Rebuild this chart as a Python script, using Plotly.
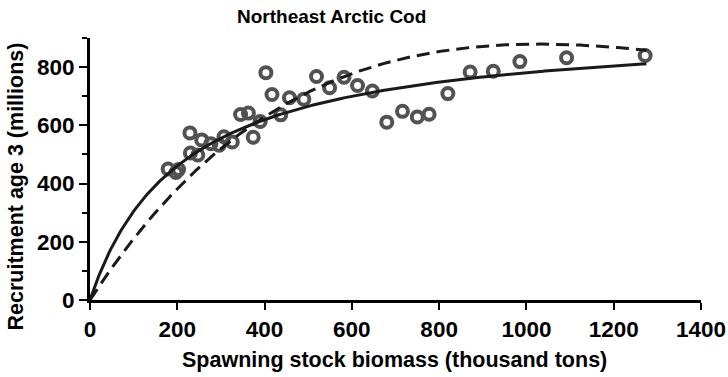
import numpy as np
import plotly.graph_objects as go

# Observed stock-recruitment pairs
ssb = [179, 197, 203, 229, 230, 247, 256, 277, 296, 307, 326, 345, 363, 374,
       390, 403, 417, 437, 457, 490, 519, 549, 582, 613, 647, 680, 716, 750,
       777, 820, 871, 924, 985, 1092, 1272]
recruits = [450, 438, 448, 574, 505, 498, 550, 537, 532, 561, 543, 637, 642, 559,
            613, 781, 706, 636, 695, 690, 768, 729, 765, 737, 718, 611, 648, 629,
            638, 709, 783, 786, 819, 832, 840]

# Fitted stock-recruitment models
bh_a, bh_b = 945.0, 210.0          # Beverton-Holt: R = a S / (b + S)
ricker_a, ricker_b = 2.32, 1 / 1030  # Ricker: R = a S exp(-b S)
s_max = 1275

x_ticks = [0, 200, 400, 600, 800, 1000, 1200, 1400]
y_ticks = [0, 200, 400, 600, 800]
y_minor = [100, 300, 500, 700, 900]

title_text = "Northeast Arctic Cod"
x_title = "Spawning stock biomass (thousand tons)"
y_title = "Recruitment age 3 (millions)"

s_grid = np.linspace(0, s_max, 400)
bh_curve = bh_a * s_grid / (bh_b + s_grid)
ricker_curve = ricker_a * s_grid * np.exp(-ricker_b * s_grid)

FONT = "Liberation Sans, Arial, sans-serif"
W, H = 728, 377
M_L, M_R, M_T, M_B = 90, 27, 38, 77
PW, PH = W - M_L - M_R, H - M_T - M_B


def px_x(p):
    return (p - M_L) / PW


def px_y(p):
    return (H - M_B - p) / PH


TICK_FONT = dict(size=22.5, family=FONT, weight="bold", color="black")
LABEL_FONT = dict(size=21.5, family=FONT, weight="bold", color="black")

fig = go.Figure()
fig.add_trace(go.Scatter(
    x=ssb, y=recruits, mode="markers",
    marker=dict(symbol="circle-open", size=11, color="#525252",
                line=dict(width=4, color="#525252")),
    showlegend=False, cliponaxis=False,
))
fig.add_trace(go.Scatter(
    x=s_grid, y=bh_curve, mode="lines",
    line=dict(color="#1a1a1a", width=3),
    showlegend=False, cliponaxis=False,
))
fig.add_trace(go.Scatter(
    x=s_grid, y=ricker_curve, mode="lines",
    line=dict(color="#1a1a1a", width=3, dash="13px,7px"),
    showlegend=False, cliponaxis=False,
))

fig.update_layout(
    width=W, height=H,
    margin=dict(l=M_L, r=M_R, t=M_T, b=M_B, autoexpand=False),
    paper_bgcolor="white", plot_bgcolor="white",
    font=dict(family=FONT, color="black"),
    xaxis=dict(
        range=[0, 1400], tickvals=x_ticks, ticktext=[str(v) for v in x_ticks],
        showgrid=False, zeroline=False, showline=True, linecolor="black", linewidth=3,
        ticks="outside", ticklen=7, tickwidth=2, tickcolor="black",
        tickfont=TICK_FONT, automargin=False,
    ),
    yaxis=dict(
        range=[0, 900], tickvals=y_ticks, ticktext=[str(v) for v in y_ticks],
        showgrid=False, zeroline=False, showline=True, linecolor="black", linewidth=3,
        ticks="outside", ticklen=8, tickwidth=2, tickcolor="black",
        tickfont=TICK_FONT, automargin=False,
        minor=dict(tickvals=y_minor, ticks="outside", ticklen=5,
                   tickwidth=2, tickcolor="black", showgrid=False),
    ),
    annotations=[
        dict(text=title_text, xref="paper", yref="paper",
             x=px_x(331.5), y=px_y(17), xanchor="center", yanchor="middle",
             showarrow=False, font=dict(size=19, family=FONT, weight="bold", color="black")),
        dict(text=x_title, xref="paper", yref="paper",
             x=px_x(394.5), y=px_y(360), xanchor="center", yanchor="middle",
             showarrow=False, font=LABEL_FONT),
        dict(text=y_title, xref="paper", yref="paper", textangle=-90,
             x=px_x(16), y=px_y(186.5), xanchor="center", yanchor="middle",
             showarrow=False, font=LABEL_FONT),
    ],
)

fig.write_html("out.html")
